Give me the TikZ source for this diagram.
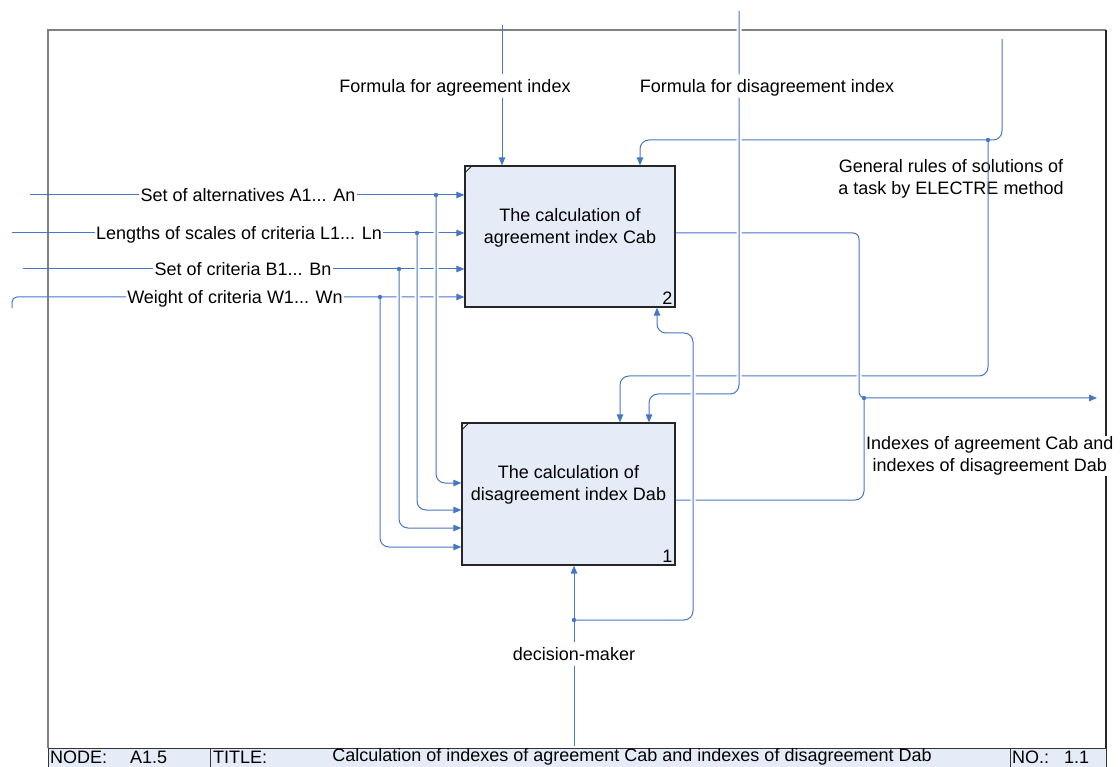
\documentclass[tikz,border=0pt]{standalone}
\usepackage{fontspec}
\setmainfont{Liberation Sans}
\usetikzlibrary{arrows.meta}

\definecolor{flowblue}{RGB}{72,118,198}
\definecolor{boxfill}{RGB}{230,236,247}
\definecolor{framegray}{RGB}{128,128,128}

\begin{document}
\begin{tikzpicture}[
    x=1pt, y=-1pt,
    font=\fontsize{18}{22}\selectfont,
    func/.style={draw=black!85, fill=boxfill, line width=1.2pt, align=center, inner sep=0pt},
    line/.style={draw=flowblue, line width=1pt, -{Triangle[length=8pt,width=6.5pt]}},
    wire/.style={draw=flowblue, line width=1pt},
    hop/.style={preaction={draw=white, line width=5pt, -, shorten <=4pt, shorten >=4pt, #1}},
    hop/.default={},
    lbl/.style={fill=white, inner xsep=1pt, inner ysep=1pt, text height=17pt, text depth=4pt},
    cell/.style={anchor=west, inner sep=0pt}
]
\useasboundingbox (0,0) rectangle (1120,767);

% frame and title bar
\draw[framegray, line width=2pt] (48,748) -- (48,30) -- (1106,30);
\draw[black!85, line width=1.5pt] (1106,30) -- (1106,748);
\draw[fill=boxfill, draw=black!80, line width=1pt] (48,748) rectangle (1106,767);
\draw[black!80, line width=1pt] (210,748) -- (210,767) (1010,748) -- (1010,767);
\node[cell] (nodekey) at (50,757) {NODE:};
\node[cell] (nodeval) at (130,757) {A1.5};
\node[cell] (titlekey) at (213,757) {TITLE:};
\node[inner sep=0pt] (titleval) at (632,757) {Calculation of indexes of agreement Cab and indexes of disagreement Dab};
\node[cell] (nokey) at (1012,757) {NO.:};
\node[cell] (noval) at (1064,757) {1.1};

% activities
\node[func, minimum width=210pt, minimum height=141pt,
      label={[anchor=south east, inner sep=3pt]south east:2}] (cab) at (570,236.5)
      {The calculation of\\agreement index Cab\\ \mbox{}};
\node[func, minimum width=213pt, minimum height=142pt,
      label={[anchor=south east, inner sep=3pt]south east:1}] (dab) at (568.5,494)
      {The calculation of\\disagreement index Dab\\ \mbox{}};
\draw[black!85, line width=0.8pt] ([yshift=-8pt]cab.north west) -- ([xshift=8pt]cab.north west);
\draw[black!85, line width=0.8pt] ([yshift=-8pt]dab.north west) -- ([xshift=8pt]dab.north west);

% arrow labels
\node[lbl] (setA) at (248,195) {Set of alternatives A1... An};
\node[lbl] (lenL) at (239,233) {Lengths of scales of criteria L1... Ln};
\node[lbl] (setB) at (243,269) {Set of criteria B1... Bn};
\node[lbl] (wgtW) at (235,297) {Weight of criteria W1... Wn};
\node[lbl] (fagr) at (455,86) {Formula for agreement index};
\node[lbl] (fdis) at (767,86) {Formula for disagreement index};
\node[lbl] (dm) at (574,654) {decision-maker};
\node[align=center] (rules) at (951,179) {General rules of solutions of\\a task by ELECTRE method};
\node[fill=white, align=center, anchor=west, inner sep=1pt] (idx) at (865,456)
      {Indexes of agreement Cab and\\indexes of disagreement Dab};

\coordinate (inA) at (30,195);
\coordinate (inL) at (12,233);
\coordinate (inB) at (23,269);
\coordinate (inW) at (12,308);
\coordinate (jA) at (436,195);
\coordinate (jL) at (417,233);
\coordinate (jB) at (399,269);
\coordinate (jW) at (380,297);
\coordinate (topA) at (502,25);
\coordinate (topD) at (739,11);
\coordinate (topG) at (1002,39);
\coordinate (jG) at (988,140);
\coordinate (dmbot) at (574,746);
\coordinate (jM) at (574,620);
\coordinate (jO) at (864,398);
\coordinate (outR) at (1097,398);

% inputs
\draw[line] (inA) -- (setA) -- (setA -| cab.west);
\draw[line] (inL) -- (lenL) -- (lenL -| cab.west);
\draw[line] (inB) -- (setB) -- (setB -| cab.west);
\draw[line, rounded corners=5pt] (inW) |- (wgtW) -- (wgtW -| cab.west);
\draw[line, hop, rounded corners=9pt] (jA) |- (dab.west |- 0,483);
\draw[line, hop, rounded corners=9pt] (jL) |- (dab.west |- 0,510);
\draw[line, hop, rounded corners=9pt] (jB) |- (dab.west |- 0,528);
\draw[line, rounded corners=9pt] (jW) |- (dab.west |- 0,547);

% controls
\draw[line, rounded corners=9pt] (topG) |- (640,140) -- (640,0 |- cab.north);
\draw[line, rounded corners=9pt] (jG) |- (620,376) -- (620,0 |- dab.north);

% outputs
\draw[line, hop, rounded corners=6pt] (cab.east |- 0,233) -| (859,398) -- (outR);
\draw[wire, rounded corners=9pt] (dab.east |- 0,500) -| (jO);

\draw[line, hop={shorten <=25pt}, rounded corners=9pt] (topD) -- (topD |- fdis.north)
    (topD |- fdis.south) |- (649,394) -- (649,0 |- dab.north);

% mechanism
\draw[line] (dmbot) -- (dm) -- (dm |- dab.south);
\draw[line, hop, rounded corners=9pt] (jM) -| (693,333) -| (657,0 |- cab.south);

\draw[line] (topA) -- (topA |- fagr.north) (topA |- fagr.south) -- (topA |- cab.north);

\foreach \j in {jA,jL,jB,jW,jG,jM,jO}
    \fill[flowblue] (\j) circle (2.2pt);

\end{tikzpicture}
\end{document}
